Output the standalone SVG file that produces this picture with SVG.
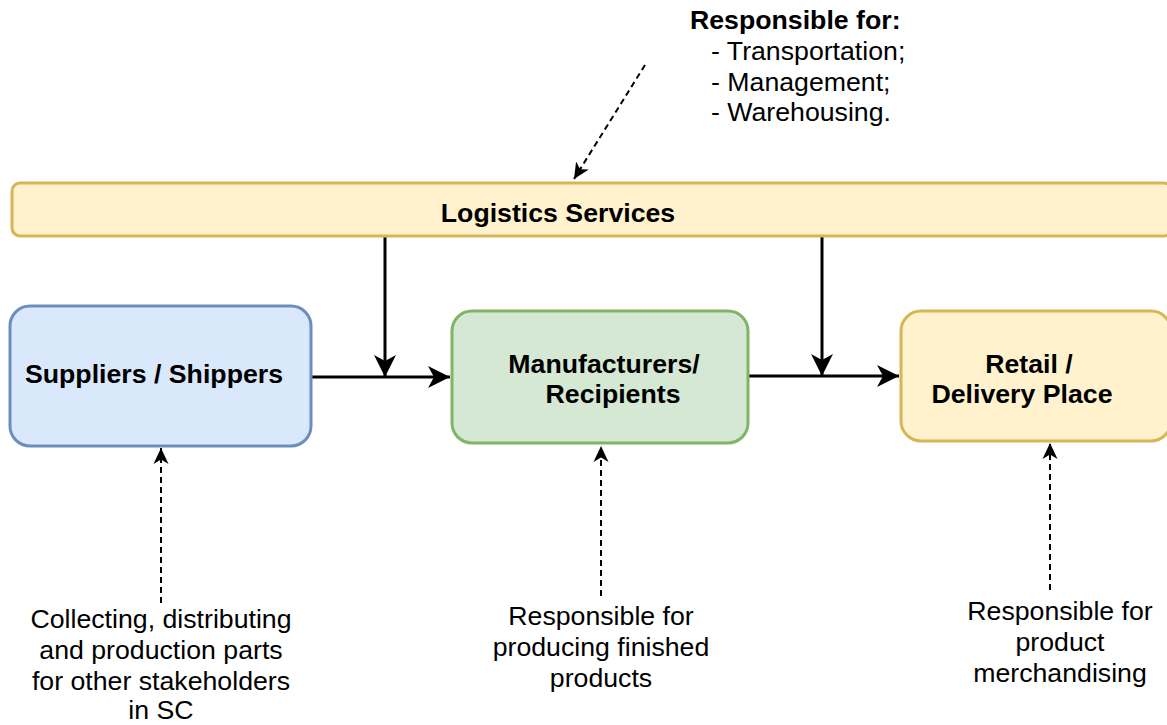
<svg xmlns="http://www.w3.org/2000/svg" width="1167" height="725" viewBox="0 0 1167 725">
<style>
text{font-family:"Liberation Sans",Arial,sans-serif;font-size:26.7px;fill:#000}
.b{font-weight:bold}
.c{text-anchor:middle}
.solid{stroke:#000;stroke-width:3;fill:none}
.dash{stroke:#000;stroke-width:2;fill:none;stroke-dasharray:6 4}
</style>
<defs>
<marker id="big" markerUnits="userSpaceOnUse" markerWidth="24" markerHeight="24" refX="22" refY="12" orient="auto">
<path d="M0,1 L22,12 L0,23 L6,12 Z" fill="#000"/>
</marker>
<marker id="small" markerUnits="userSpaceOnUse" markerWidth="18" markerHeight="18" refX="16" refY="9" orient="auto">
<path d="M0,1.5 L16,9 L0,16.5 L4.5,9 Z" fill="#000"/>
</marker>
</defs>
<rect width="1167" height="725" fill="#fff"/>
<g id="connectors">
<path class="solid" d="M311,377 L450,377" marker-end="url(#big)"/>
<path class="solid" d="M385,236 L385,377" marker-end="url(#big)"/>
<path class="solid" d="M748,376 L899,376" marker-end="url(#big)"/>
<path class="solid" d="M822,236 L822,376" marker-end="url(#big)"/>
<path class="dash" d="M645,65 L574,179" marker-end="url(#small)"/>
<path class="dash" d="M161,603 L161,448" marker-end="url(#small)"/>
<path class="dash" d="M601,596 L601,446" marker-end="url(#small)"/>
<path class="dash" d="M1050,590 L1050,443" marker-end="url(#small)"/>
</g>
<g id="logistics">
<rect x="12" y="183" width="1160" height="53" rx="8" fill="#fff2cc" stroke="#d6b656" stroke-width="3"/>
<text class="b c" x="558" y="222">Logistics Services</text>
</g>
<g id="suppliers">
<rect x="10" y="306" width="301" height="140" rx="20" fill="#dae8fc" stroke="#6c8ebf" stroke-width="3"/>
<text class="b c" x="154" y="383">Suppliers / Shippers</text>
</g>
<g id="manufacturers">
<rect x="452" y="311" width="296" height="132" rx="20" fill="#d5e8d4" stroke="#82b366" stroke-width="3"/>
<text class="b c" x="604" y="373">Manufacturers/</text>
<text class="b c" x="613" y="403">Recipients</text>
</g>
<g id="retail">
<rect x="901" y="311" width="270" height="130" rx="20" fill="#fff2cc" stroke="#d6b656" stroke-width="3"/>
<text class="b c" x="1029" y="373">Retail /</text>
<text class="b c" x="1022" y="403">Delivery Place</text>
</g>
<g id="logistics-note">
<text class="b" x="690" y="29">Responsible for:</text>
<text x="711" y="60">- Transportation;</text>
<text x="711" y="91">- Management;</text>
<text x="711" y="121">- Warehousing.</text>
</g>
<g id="suppliers-note">
<text class="c" x="161" y="628">Collecting, distributing</text>
<text class="c" x="161" y="659">and production parts</text>
<text class="c" x="161" y="690">for other stakeholders</text>
<text class="c" x="161" y="719">in SC</text>
</g>
<g id="manufacturers-note">
<text class="c" x="601" y="625">Responsible for</text>
<text class="c" x="601" y="656">producing finished</text>
<text class="c" x="601" y="687">products</text>
</g>
<g id="retail-note">
<text class="c" x="1060" y="620">Responsible for</text>
<text class="c" x="1060" y="651">product</text>
<text class="c" x="1060" y="682">merchandising</text>
</g>
</svg>
